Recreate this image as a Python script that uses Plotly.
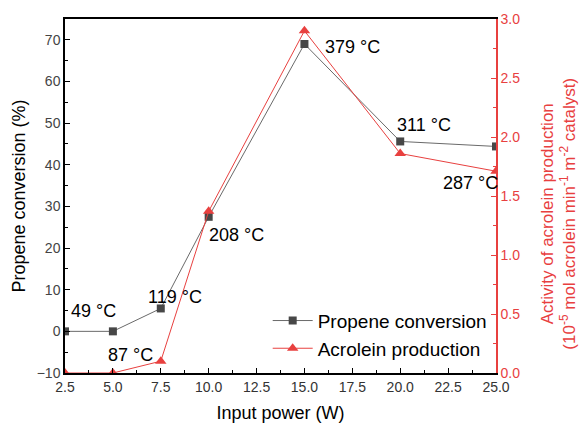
import plotly.graph_objects as go

power = [2.5, 5.0, 7.5, 10.0, 15.0, 20.0, 25.0]
propene = [0.0, 0.0, 5.5, 27.5, 69.0, 45.6, 44.4]
acrolein = [0.0, 0.0, 0.10, 1.37, 2.90, 1.86, 1.71]
temp_labels = ["49 °C", "87 °C", "119 °C", "208 °C", "379 °C", "311 °C", "287 °C"]

RED = "#e8403f"
GRAY = "#474747"
FONT = "Arial, Liberation Sans"

fig = go.Figure()
fig.add_trace(go.Scatter(x=power, y=propene, name="Propene conversion", mode="lines+markers",
                         line=dict(color="#6a6a6a", width=1),
                         marker=dict(symbol="square", size=8, color=GRAY)))
fig.add_trace(go.Scatter(x=power, y=acrolein, name="Acrolein production", mode="lines+markers",
                         yaxis="y2", line=dict(color=RED, width=1),
                         marker=dict(symbol="triangle-up", size=10, color=RED)))

# temperature annotations (anchored to data points, offset in pixels)
ann_specs = [
    (0, "y", propene[0], 28, -20),
    (1, "y2", acrolein[1], 18, -18),
    (2, "y", propene[2], 14, -11),
    (3, "y", propene[3], 28, 18),
    (4, "y", propene[4], 48, 3),
    (5, "y2", acrolein[5], 24, -29),
    (6, "y2", acrolein[6], -26, 12),
]
for i, yref, yv, ax, ay in ann_specs:
    fig.add_annotation(x=power[i], y=yv, xref="x", yref=yref, text=temp_labels[i],
                       showarrow=True, arrowcolor="rgba(0,0,0,0)", ax=ax, ay=ay,
                       font=dict(size=18, color="black", family=FONT))

# right axis title (placed as rotated annotation for exact position)
fig.add_annotation(xref="paper", yref="paper", x=1.146, y=0.45, xanchor="center", yanchor="middle",
                   text="Activity of acrolein production<br>(10<sup>-5</sup> mol acrolein min<sup>-1</sup> m<sup>-2</sup> catalyst)",
                   textangle=-90, showarrow=False, font=dict(size=17, color=RED, family=FONT))

fig.update_layout(
    width=579, height=423,
    margin=dict(l=65, r=83, t=19, b=50),
    plot_bgcolor="white", paper_bgcolor="white",
    font=dict(family=FONT, size=14),
    showlegend=True,
    legend=dict(x=0.99, y=0.015, xanchor="right", yanchor="bottom",
                bgcolor="rgba(255,255,255,0)", font=dict(size=19, color="black"),
                itemwidth=40, tracegroupgap=0),
    xaxis=dict(range=[2.5, 25.0], tickvals=[2.5, 5, 7.5, 10, 12.5, 15, 17.5, 20, 22.5, 25],
               ticktext=["2.5", "5.0", "7.5", "10.0", "12.5", "15.0", "17.5", "20.0", "22.5", "25.0"],
               showline=True, linecolor="black", linewidth=1.5, mirror=True,
               ticks="inside", ticklen=5, tickcolor="black",
               minor=dict(ticks="inside", ticklen=3, dtick=1.25, tickcolor="black"),
               showgrid=False, zeroline=False, automargin=False,
               tickfont=dict(color="#333", size=14),
               title=dict(text="Input power (W)", font=dict(size=18, color="black"), standoff=14)),
    yaxis=dict(range=[-10, 75], tickvals=[-10, 0, 10, 20, 30, 40, 50, 60, 70],
               showline=True, linecolor="black", linewidth=1.5,
               ticks="inside", ticklen=5, tickcolor="black",
               minor=dict(ticks="inside", ticklen=3, dtick=5, tickcolor="black"),
               showgrid=False, zeroline=False, automargin=False,
               tickfont=dict(color="#444", size=14),
               title=dict(text="Propene conversion (%)", font=dict(size=18, color="black"), standoff=6)),
    yaxis2=dict(range=[0, 3.0], tickvals=[0, 0.5, 1.0, 1.5, 2.0, 2.5, 3.0],
                ticktext=["0.0", "0.5", "1.0", "1.5", "2.0", "2.5", "3.0"],
                overlaying="y", side="right",
                showline=True, linecolor=RED, linewidth=1.5,
                ticks="inside", ticklen=5, tickcolor=RED,
                minor=dict(ticks="inside", ticklen=3, dtick=0.25, tickcolor=RED),
                showgrid=False, zeroline=False, automargin=False,
                tickfont=dict(color=RED, size=14)),
)

fig.write_html("out.html")
